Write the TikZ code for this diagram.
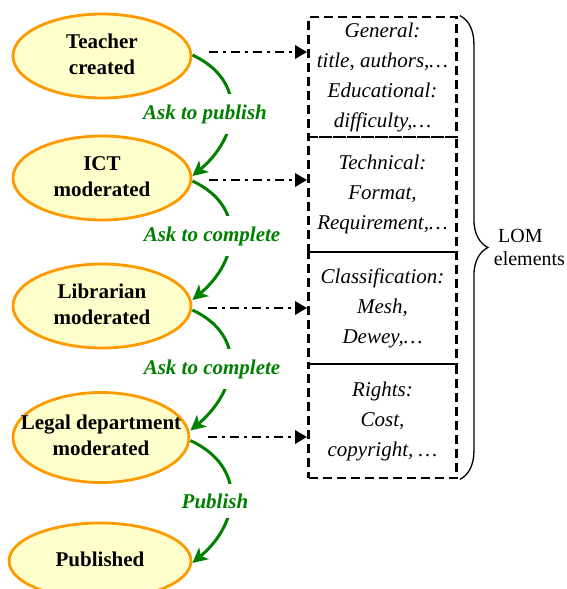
\documentclass[tikz,border=0pt]{standalone}
\usepackage{fontspec}
\newfontfamily\lserif{Liberation Serif}
\usetikzlibrary{arrows.meta,decorations.pathreplacing,shapes.geometric,calc}
\definecolor{flowgreen}{RGB}{0,128,0}
\definecolor{stfill}{RGB}{255,255,204}
\definecolor{storange}{RGB}{255,153,0}
\pgfdeclarelayer{bg}
\pgfsetlayers{bg,main}
\newcommand\stlabel[1]{\makebox[0pt]{\begin{tabular}{@{}c@{}}#1\end{tabular}}}
\begin{document}
\begin{tikzpicture}[x=1pt,y=1pt,
  state/.style={ellipse, draw=storange, fill=stfill, line width=2.8pt,
    minimum width=178pt, minimum height=84pt, inner sep=0pt,
    font=\lserif\fontsize{21}{26}\selectfont\bfseries},
  lombox/.style={draw, dash pattern=on 9pt off 5pt, line width=2.8pt,
    minimum width=148pt, inner sep=0pt, align=center,
    font=\lserif\fontsize{21}{30}\selectfont\itshape},
  flow/.style={draw=flowgreen, line width=3pt,
    -{Stealth[length=15pt,width=15pt,inset=4pt]}},
  flowlbl/.style={fill=white, text=flowgreen, inner xsep=2pt, inner ysep=10pt,
    font=\lserif\fontsize{21}{26}\selectfont\bfseries\itshape},
  dd/.style={line width=2.8pt, dash pattern=on 9pt off 5pt on 3pt off 5pt,
    -{Triangle[length=12pt,width=13pt]}}
  ]
\useasboundingbox (0,0) rectangle (567,-589);
\clip (0,0) rectangle (567,-589);

% states
\node[state] (A) at (102,-56) {\stlabel{Teacher\\created}};
\node[state] (B) at (102,-178) {\stlabel{ICT\\moderated}};
\node[state] (C) at (102,-306) {\stlabel{Librarian\\moderated}};
\node[state, minimum width=176pt, minimum height=90pt] (D) at (101,-437.5) {\stlabel{Legal department\\moderated}};
\node[state, minimum width=182pt, minimum height=76pt] (E) at (100,-561) {\stlabel{Published}};

% LOM boxes
\node[lombox, minimum height=120pt] (b1) at (382.5,-77)
  {General:\\title, authors,…\\Educational:\\difficulty,…};
\node[lombox, minimum height=115pt] (b2) at (382.5,-194.5)
  {Technical:\\Format,\\Requirement,…};
\node[lombox, minimum height=112pt] (b3) at (382.5,-308)
  {Classification:\\Mesh,\\Dewey,…};
\node[lombox, minimum height=114pt] (b4) at (382.5,-421)
  {Rights:\\Cost,\\copyright, …};

% dash-dot links
\draw[dd] ([xshift=17pt,yshift=4pt]A.east) -- ([yshift=4pt]A.east -| b1.west);
\draw[dd] ([xshift=17pt,yshift=-2pt]B.east) -- ([yshift=-2pt]B.east -| b2.west);
\draw[dd] ([xshift=16pt,yshift=-2pt]C.east) -- ([yshift=-2pt]C.east -| b3.west);
\draw[dd] ([xshift=18pt,yshift=0.5pt]D.east) -- ([yshift=0.5pt]D.east -| b4.west);

% brace
\draw[decorate, decoration={brace, amplitude=28pt, aspect=0.5}, line width=1.3pt]
  ([xshift=2pt]b1.north east) -- ([xshift=2pt]b4.south east)
  node[midway, right=30pt, align=center, font=\lserif\fontsize{20}{23}\selectfont] (lom)
  {LOM\hspace*{18pt}\\elements};

% workflow arrows
\begin{pgfonlayer}{bg}
\draw[flow] ([yshift=1pt]A.east) to[out=-25,in=40,looseness=1.3] ([yshift=2pt]B.east);
\node[flowlbl] (l1) at (205,-114) {Ask to publish};
\draw[flow] ([yshift=-3pt]B.east) to[out=-25,in=40,looseness=1.3] ([yshift=6pt]C.east);
\node[flowlbl] (l2) at (212,-236) {Ask to complete};
\draw[flow] ([yshift=-4pt]C.east) to[out=-25,in=40,looseness=1.3] ([yshift=7pt]D.east);
\node[flowlbl] (l3) at (212,-369) {Ask to complete};
\draw[flow] ([yshift=-3pt]D.east) to[out=-25,in=40,looseness=1.3] ([yshift=-2pt]E.east);
\node[flowlbl] (l4) at (215,-501) {Publish};
\end{pgfonlayer}
\end{tikzpicture}
\end{document}
